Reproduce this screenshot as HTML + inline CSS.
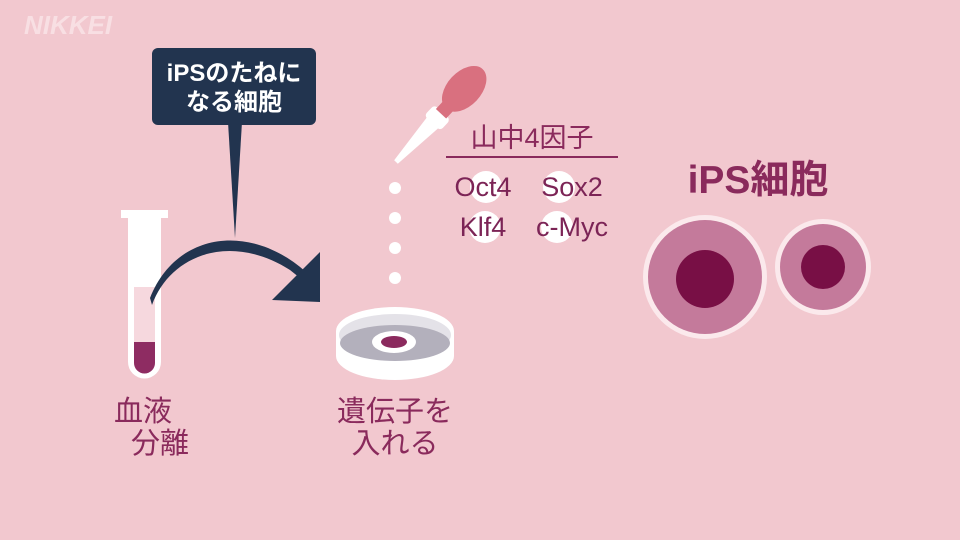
<!DOCTYPE html>
<html><head><meta charset="utf-8"><style>
html,body{margin:0;padding:0;background:#f2c8cf;}
svg{display:block}
text{font-family:"Liberation Sans","Noto Sans CJK JP",sans-serif;}
</style></head><body>
<svg width="960" height="540" viewBox="0 0 960 540" xmlns="http://www.w3.org/2000/svg">
<rect width="960" height="540" fill="#f2c8cf"/>
<text x="24" y="34" font-size="26" font-weight="bold" font-style="italic" fill="#f8dfe3">NIKKEI</text>

<!-- callout -->
<rect x="152" y="48" width="164" height="77" rx="6" fill="#22344f"/>
<polygon points="228,122 242,122 235,238" fill="#22344f"/>
<text x="234" y="81" font-size="24" font-weight="bold" fill="#fff" text-anchor="middle">iPSのたねに</text>
<text x="234" y="110" font-size="24" font-weight="bold" fill="#fff" text-anchor="middle">なる細胞</text>

<!-- tube -->
<rect x="121" y="210" width="47" height="8" fill="#fff"/>
<path d="M128,217 H161 V362 A16.5,16.5 0 0 1 128,362 Z" fill="#fff"/>
<path d="M134,287 H155 V362 A10.5,10.5 0 0 1 134,362 Z" fill="#f6d8de"/>
<path d="M134,342 H155 V363 A10.5,10.5 0 0 1 134,363 Z" fill="#8e2c62"/>

<!-- arrow -->
<path d="M152,305 C170,255 230,232 290,270 L300,278 L306,272 C250,222 176,232 150,298 Z" fill="#22344f"/>
<polygon points="320,252 320,302 272,300" fill="#22344f"/>

<!-- dish -->
<path d="M336,331 A59,24 0 0 1 454,331 V356 A59,24 0 0 1 336,356 Z" fill="#fff"/>
<ellipse cx="395" cy="335" rx="56" ry="21" fill="#e4e2e8"/>
<ellipse cx="395" cy="343" rx="55" ry="18" fill="#b3b0bc"/>
<ellipse cx="394" cy="342" rx="22" ry="11" fill="#fff"/>
<ellipse cx="394" cy="342" rx="13" ry="6" fill="#8b2a5e"/>

<!-- dropper -->
<g transform="translate(396,162) rotate(43)">
<polygon points="-2.5,0 2.5,0 8,-55 -8,-55" fill="#fff"/>
<rect x="-11" y="-68" width="22" height="15" rx="4" fill="#fff"/>
<rect x="-7" y="-78" width="14" height="12" fill="#d9707f"/>
<ellipse cx="0" cy="-100" rx="17" ry="27" fill="#d9707f"/>
</g>
<circle cx="395" cy="188" r="6" fill="#fff"/>
<circle cx="395" cy="218" r="6" fill="#fff"/>
<circle cx="395" cy="248" r="6" fill="#fff"/>
<circle cx="395" cy="278" r="6" fill="#fff"/>

<!-- factors -->
<text x="532" y="147" font-size="27" fill="#8a2a5c" text-anchor="middle">山中4因子</text>
<rect x="446" y="156" width="172" height="2" fill="#8a2a5c"/>
<circle cx="486" cy="187" r="16" fill="#fff"/>
<circle cx="559" cy="187" r="16" fill="#fff"/>
<circle cx="485" cy="227" r="16" fill="#fff"/>
<circle cx="557" cy="227" r="16" fill="#fff"/>
<text x="483" y="196" font-size="27" fill="#7c2456" text-anchor="middle">Oct4</text>
<text x="572" y="196" font-size="27" fill="#7c2456" text-anchor="middle">Sox2</text>
<text x="483" y="236" font-size="27" fill="#7c2456" text-anchor="middle">Klf4</text>
<text x="572" y="236" font-size="27" fill="#7c2456" text-anchor="middle">c-Myc</text>

<!-- iPS cells -->
<text x="758" y="193" font-size="39" font-weight="bold" fill="#8a2a5c" text-anchor="middle">iPS細胞</text>
<circle cx="705" cy="277" r="62" fill="#fbe9ec"/>
<circle cx="705" cy="277" r="57" fill="#c47a9b"/>
<circle cx="705" cy="279" r="29" fill="#780f45"/>
<circle cx="823" cy="267" r="48" fill="#fbe9ec"/>
<circle cx="823" cy="267" r="43" fill="#c47a9b"/>
<circle cx="823" cy="267" r="22" fill="#780f45"/>

<!-- labels -->
<text x="114" y="421" font-size="29" fill="#8a2a5c">血液</text>
<text x="131" y="453" font-size="29" fill="#8a2a5c">分離</text>
<text x="395" y="421" font-size="29" fill="#8a2a5c" text-anchor="middle">遺伝子を</text>
<text x="395" y="453" font-size="29" fill="#8a2a5c" text-anchor="middle">入れる</text>
</svg>
</body></html>
